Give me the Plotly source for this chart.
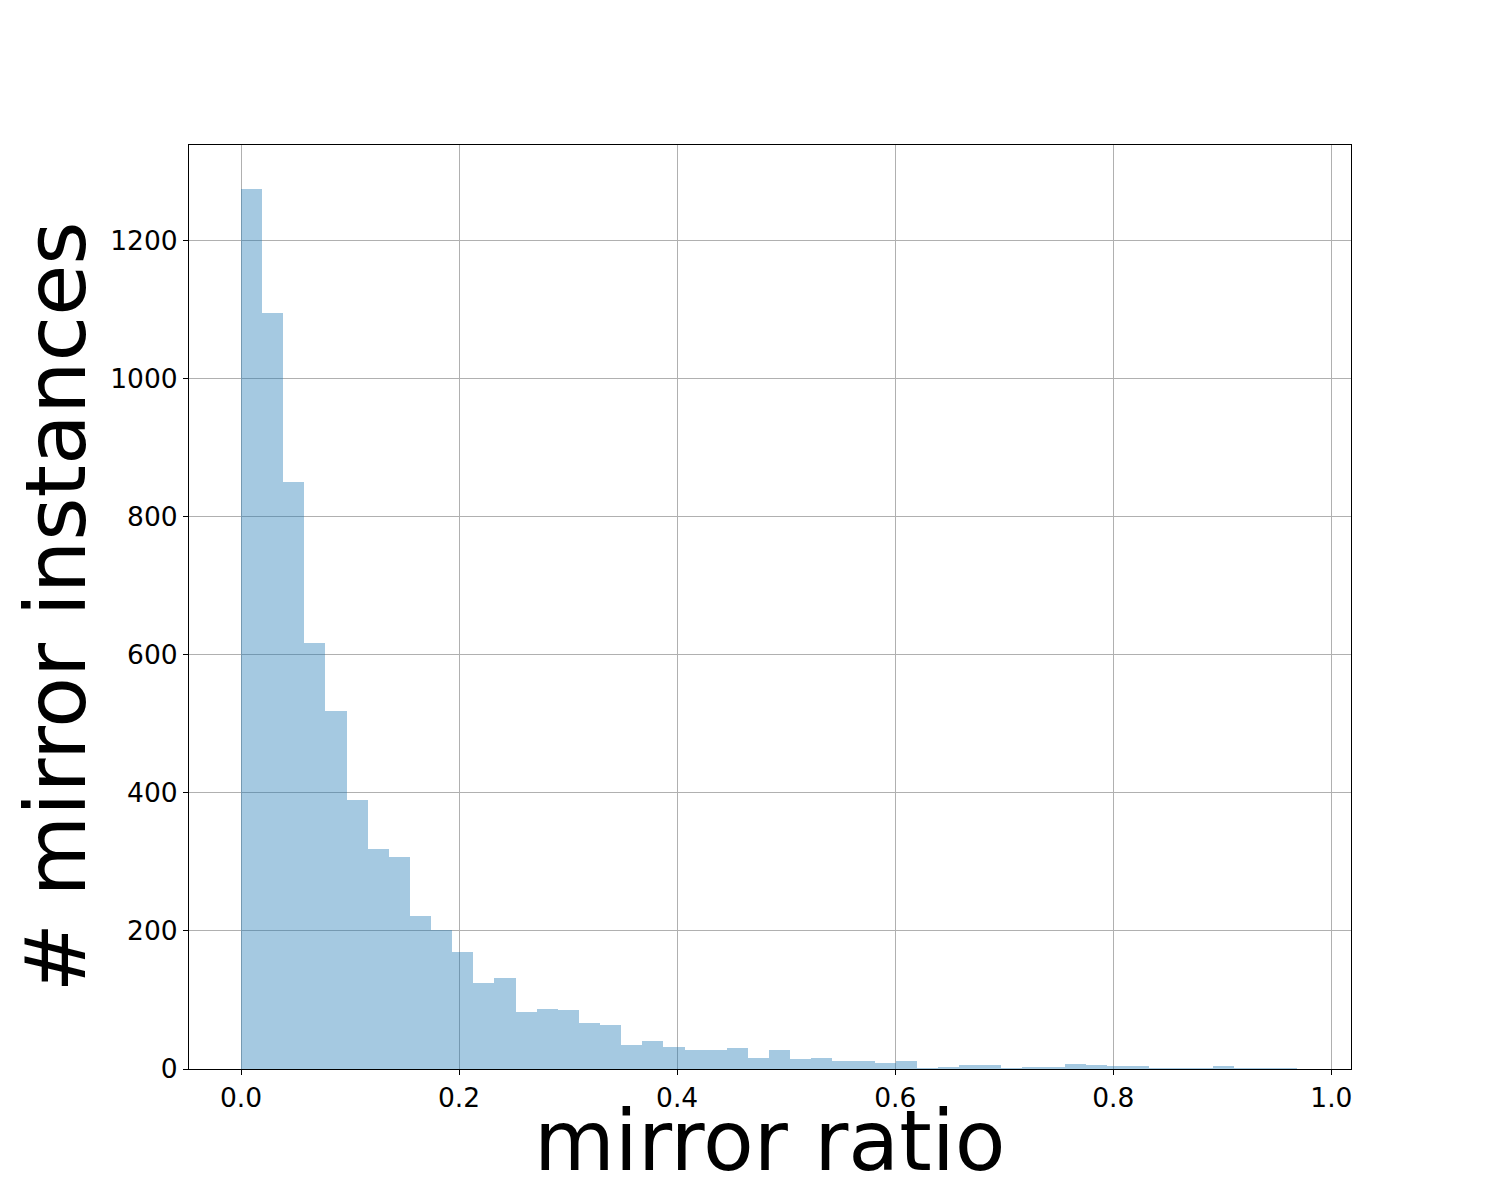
import plotly.graph_objects as go

# histogram of mirror ratios: 50 equal bins starting at 0
bin_start = 0.0
bin_width = 0.01937
counts = [1274, 1095, 850, 617, 519, 390, 318, 307, 222, 202,
          169, 125, 132, 82, 87, 85, 66, 63, 35, 40,
          32, 27, 27, 31, 16, 28, 15, 16, 11, 11,
          8, 11, 2, 3, 6, 6, 1, 3, 3, 7,
          6, 4, 4, 2, 1, 1, 4, 1, 1, 1]
x_ticks = [0.0, 0.2, 0.4, 0.6, 0.8, 1.0]
x_labels = ['0.0', '0.2', '0.4', '0.6', '0.8', '1.0']
y_ticks = [0, 200, 400, 600, 800, 1000, 1200]

centers = [bin_start + (i + 0.5) * bin_width for i in range(len(counts))]

fig = go.Figure()
fig.add_trace(go.Bar(
    x=centers, y=counts, width=bin_width,
    marker_color='rgba(31, 119, 180, 0.4)', marker_line_width=0,
    showlegend=False))

axis_common = dict(
    showline=True, linecolor='black', linewidth=1, mirror=True,
    showgrid=True, gridcolor='#b0b0b0', gridwidth=1,
    zeroline=False, ticks='outside', ticklen=5, tickwidth=1,
    tickcolor='black', layer='above traces',
    tickfont=dict(family='DejaVu Sans', size=26.5, color='black'))

# page draws with a small offset, so margins are trimmed by ~7px
fig.update_layout(
    width=1500, height=1200,
    plot_bgcolor='white', paper_bgcolor='white',
    margin=dict(l=181, r=157, t=137, b=139),
    bargap=0,
    font=dict(family='DejaVu Sans', color='black'),
    xaxis=dict(axis_common, range=[-0.0477, 1.018],
               tickvals=x_ticks, ticktext=x_labels),
    yaxis=dict(axis_common, range=[0, 1338], tickvals=y_ticks,
               title=dict(text='# mirror instances', standoff=10,
                          font=dict(size=83, family='DejaVu Sans'))))

# x title as an annotation so it can sit closer to the tick labels
fig.add_annotation(
    text='mirror ratio', xref='paper', yref='paper', x=0.5, y=0,
    xanchor='center', yanchor='middle', yshift=-72, showarrow=False,
    font=dict(size=83, family='DejaVu Sans', color='black'))

fig.write_html('out.html')
